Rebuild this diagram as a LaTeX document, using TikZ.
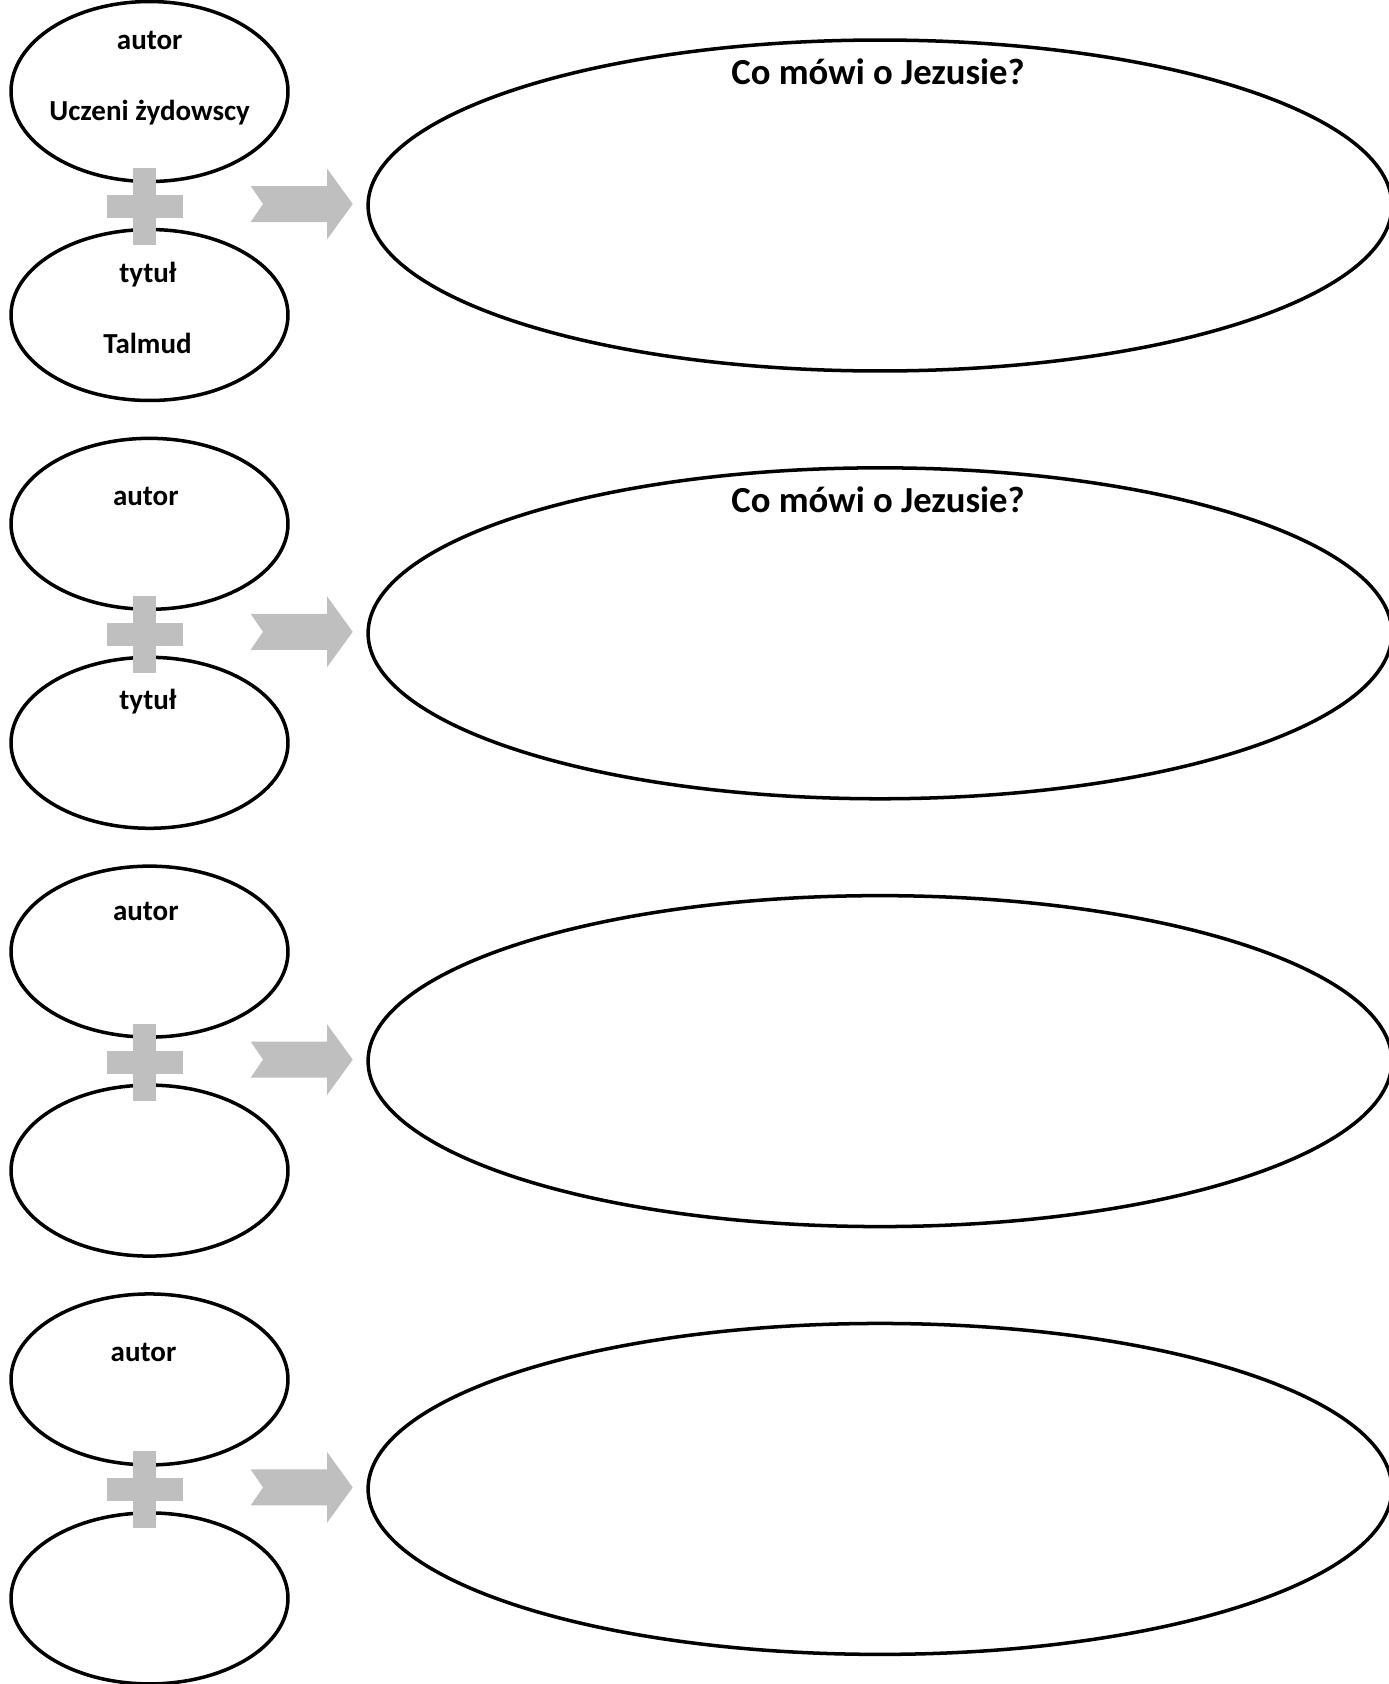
\documentclass[tikz,border=0pt]{standalone}
\usepackage{fontspec}
\setmainfont{Carlito}
\usetikzlibrary{shapes.geometric}
\definecolor{szary}{HTML}{BFBFBF}
\tikzset{>=latex,
	maly/.style = {draw, ellipse, line width = 2pt, inner sep = 0pt, outer sep = 0pt, minimum width = 5.54cm},
	duzy/.style = {draw, ellipse, line width = 2pt, inner sep = 0pt, outer sep = 0pt, minimum width = 20.48cm, minimum height = 6.62cm},
	napis/.style = {anchor = base, inner sep = 0pt, font = \bfseries\fontsize{16.5}{18}\selectfont},
	pytanie/.style = {anchor = base, inner sep = 0pt, font = \bfseries\fontsize{20.9}{24}\selectfont}}
\newcommand\wiersz[3]{{
	\node[maly, anchor = south, minimum height = #3] (aut#1) at (149.5, #2 - 25) {};
	\node[maly, minimum height = 3.42cm] (tyt#1) at (149.5, #2 + 108.5) {};
	\node[duzy] (co#1) at (880, #2 - 1) {};
	\fill[szary] (133.3, #2 - 38.5) rectangle (155.7, #2 + 38.5);
	\fill[szary] (106.7, #2 - 11.5) rectangle (182.7, #2 + 11.5);
	\fill[szary] (250.7, #2 - 20.5) -- (327, #2 - 20.5) -- (327, #2 - 38) -- (352.7, #2 - 2.5) -- (327, #2 + 33) -- (327, #2 + 15.5) -- (250.7, #2 + 15.5) -- (263, #2 - 2.5) -- cycle;
}}

\begin{document}
\begin{tikzpicture}[x = 0.02cm, y = -0.02cm]
	\useasboundingbox (0, 0) rectangle (1389, 1684);
	\wiersz{1}{206.5}{3.6cm} \wiersz{2}{634.3}{3.42cm} \wiersz{3}{1062.1}{3.42cm} \wiersz{4}{1489.9}{3.42cm}
	\node[napis] (autor1) at (149.7, 49.3) {autor};
	\node[napis] (uczeni) at (149.7, 120.7) {Uczeni żydowscy};
	\node[napis] (tytul1) at (148, 282.7) {tytuł};
	\node[napis] (talmud) at (147.5, 353.3) {Talmud};
	\node[pytanie] (pyt1) at (878, 84.3) {Co mówi o Jezusie?};
	\node[napis] (autor2) at (145.8, 505) {autor};
	\node[napis] (tytul2) at (148, 709) {tytuł};
	\node[pytanie] (pyt2) at (878, 512) {Co mówi o Jezusie?};
	\node[napis] (autor3) at (145.8, 920) {autor};
	\node[napis] (autor4) at (143.5, 1361.7) {autor};
\end{tikzpicture}
\end{document}
